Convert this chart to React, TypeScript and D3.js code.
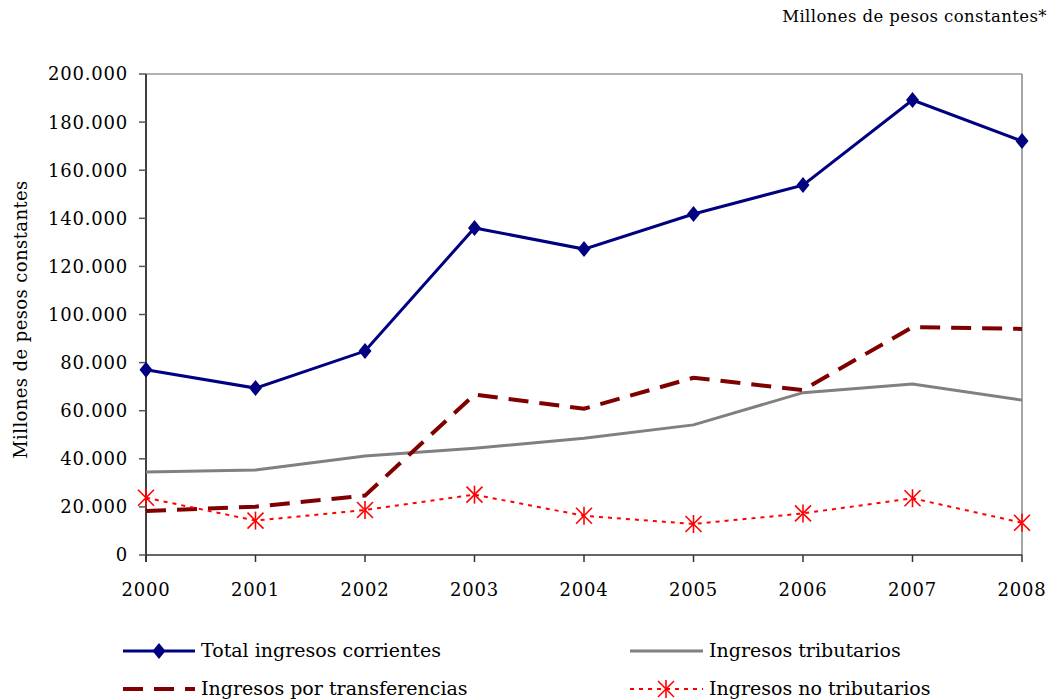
import React from "react";
import * as d3 from "d3";

const years = [2000, 2001, 2002, 2003, 2004, 2005, 2006, 2007, 2008];
const totalCorrientes = [77000, 69400, 84800, 136000, 127200, 141800, 153800, 189200, 172100];
const tributarios = [34500, 35300, 41200, 44400, 48500, 54100, 67500, 71100, 64400];
const transferencias = [18300, 20100, 24700, 66700, 60800, 73700, 68600, 94800, 94000];
const noTributarios = [23800, 14300, 18700, 25100, 16300, 12900, 17300, 23600, 13400];
const yTicks = [0, 20000, 40000, 60000, 80000, 100000, 120000, 140000, 160000, 180000, 200000];

const FONT = "'DejaVu Serif', serif";

const fmt = (v: number) => (v === 0 ? "0" : d3.format(",")(v).replace(/,/g, "."));

function Diamond({ x, y }: { x: number; y: number }) {
  const w = 6.5, h = 8;
  return <path d={`M${x},${y - h}L${x + w},${y}L${x},${y + h}L${x - w},${y}Z`} fill="#000080" />;
}

function Star({ x, y }: { x: number; y: number }) {
  const r = 8;
  return (
    <g stroke="#FF0000" strokeWidth={1.6}>
      <line x1={x - r} y1={y - r} x2={x + r} y2={y + r} />
      <line x1={x - r} y1={y + r} x2={x + r} y2={y - r} />
      <line x1={x} y1={y - r - 1} x2={x} y2={y + r + 1} />
    </g>
  );
}

export default function App() {
  const left = 146, right = 1022, top = 74, bottom = 555;
  const x = d3.scaleLinear().domain([2000, 2008]).range([left, right]);
  const y = d3.scaleLinear().domain([0, 200000]).range([bottom, top]);
  const line = (vals: number[]) =>
    d3.line<number>().x((_, i) => x(years[i])).y((v) => y(v))(vals) || "";

  return (
    <svg width={1051} height={700} style={{ position: "absolute", left: 0, top: 0 }} fontFamily={FONT}>
      <rect width={1051} height={700} fill="#fff" />
      <text x={1047} y={22} textAnchor="end" fontSize={16.5} letterSpacing={0.4} fill="#000">Millones de pesos constantes*</text>
      {/* frame */}
      <line x1={left} y1={top} x2={right} y2={top} stroke="#999" strokeWidth={1.5} />
      <line x1={right} y1={top} x2={right} y2={bottom} stroke="#888" strokeWidth={1.5} />
      {/* y axis */}
      <line x1={left} y1={top} x2={left} y2={bottom + 7} stroke="#000" strokeWidth={1.5} />
      {yTicks.map((t) => (
        <g key={t}>
          <line x1={left - 7} x2={left} y1={y(t)} y2={y(t)} stroke="#555" strokeWidth={1.5} />
          <text x={128} y={y(t)} dy="0.36em" textAnchor="end" fontSize={18} letterSpacing={0.8} fill="#000">{fmt(t)}</text>
        </g>
      ))}
      {/* x axis */}
      <line x1={left} y1={bottom} x2={right} y2={bottom} stroke="#333" strokeWidth={1.5} />
      {years.map((yr) => (
        <g key={yr}>
          <line x1={x(yr)} x2={x(yr)} y1={bottom} y2={bottom + 7} stroke="#333" strokeWidth={1.5} />
          <text x={x(yr)} y={596} textAnchor="middle" fontSize={18} letterSpacing={0.8} fill="#000">{yr}</text>
        </g>
      ))}
      <text transform={`translate(27,${(top + bottom) / 2 + 5}) rotate(-90)`} textAnchor="middle" fontSize={18} letterSpacing={0.4} fill="#000">
        Millones de pesos constantes
      </text>
      {/* series */}
      <path d={line(tributarios)} fill="none" stroke="#808080" strokeWidth={3} />
      <path d={line(transferencias)} fill="none" stroke="#800000" strokeWidth={4} strokeDasharray="20,11" />
      <path d={line(noTributarios)} fill="none" stroke="#FF0000" strokeWidth={2} strokeDasharray="4,5" />
      {noTributarios.map((v, i) => <Star key={i} x={x(years[i])} y={y(v)} />)}
      <path d={line(totalCorrientes)} fill="none" stroke="#000080" strokeWidth={3} />
      {totalCorrientes.map((v, i) => <Diamond key={i} x={x(years[i])} y={y(v)} />)}
      {/* legend */}
      <g fontSize={19}>
        <line x1={123} x2={195} y1={651} y2={651} stroke="#000080" strokeWidth={3} />
        <Diamond x={159} y={651} />
        <text x={201} y={657}>Total ingresos corrientes</text>
        <line x1={630} x2={703} y1={651} y2={651} stroke="#808080" strokeWidth={3} />
        <text x={709} y={657}>Ingresos tributarios</text>
        <line x1={123} x2={195} y1={689} y2={689} stroke="#800000" strokeWidth={4} strokeDasharray="20,11" />
        <text x={201} y={695}>Ingresos por transferencias</text>
        <line x1={630} x2={703} y1={689} y2={689} stroke="#FF0000" strokeWidth={2} strokeDasharray="4,5" />
        <Star x={666} y={689} />
        <text x={709} y={695}>Ingresos no tributarios</text>
      </g>
    </svg>
  );
}
